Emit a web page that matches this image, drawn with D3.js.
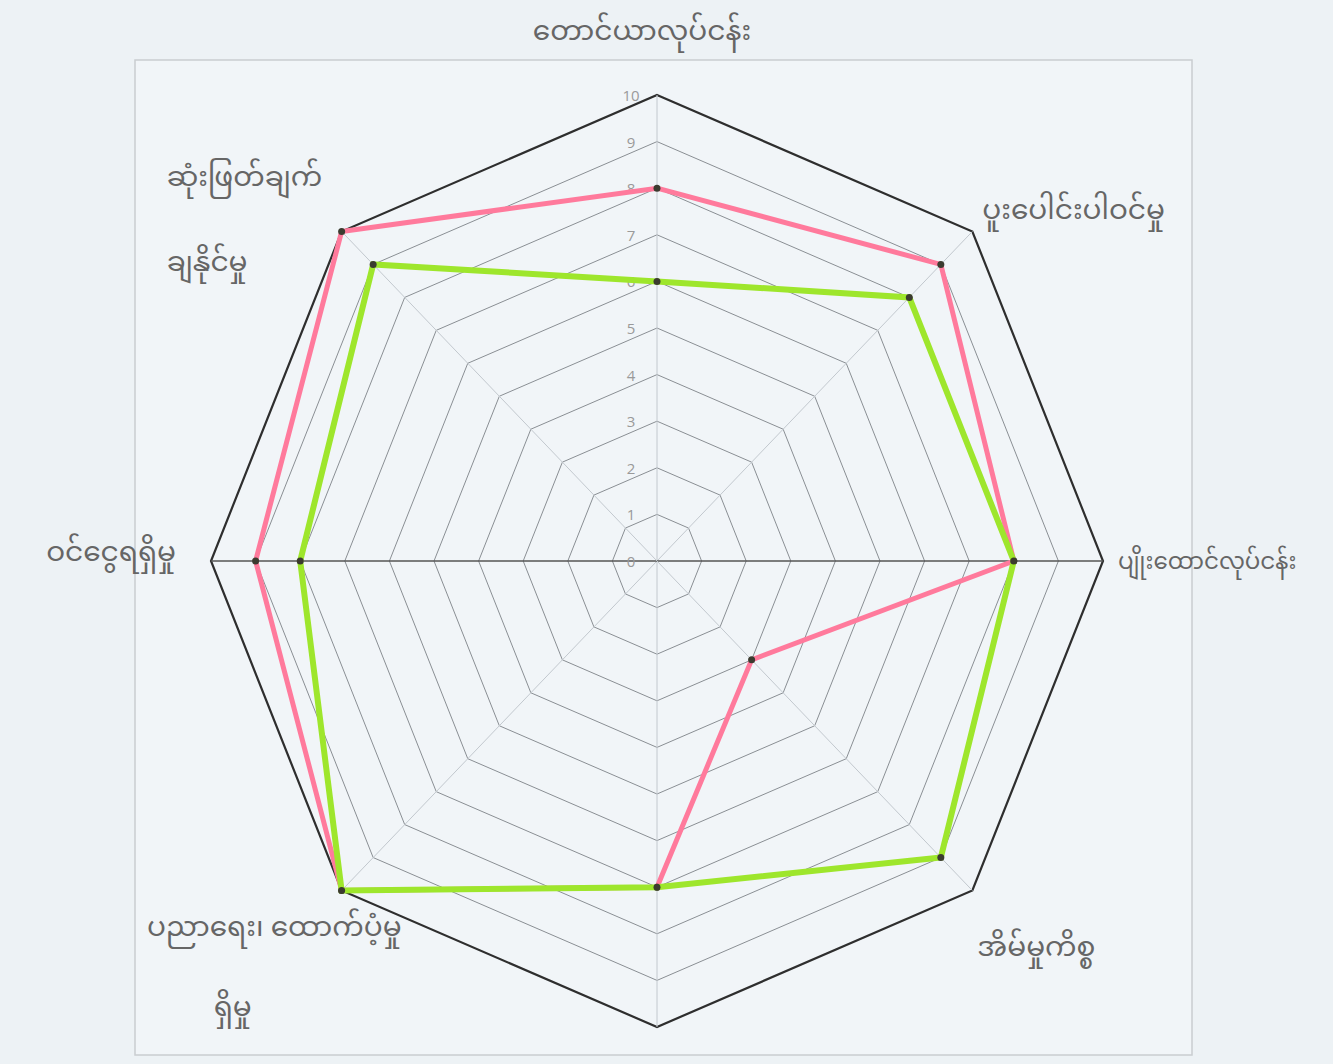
<!DOCTYPE html>
<html>
<head>
<meta charset="utf-8">
<script src="https://cdn.jsdelivr.net/npm/d3@7"></script>
<style>
  html, body { margin: 0; padding: 0; background: #edf2f5; }
  svg { display: block; }
  .lbl { font-family: "Noto Sans Myanmar", "Padauk", "Myanmar Text", "Noto Sans", sans-serif; fill: #666; font-size: 28px; }
  .tick { font-family: "Open Sans", "DejaVu Sans", sans-serif; fill: #9a9a9a; font-size: 15px; }
</style>
</head>
<body>
<script>
// ---- data ----
const categories = [
  ["တောင်ယာလုပ်ငန်း"],
  ["ပူးပေါင်းပါဝင်မှု"],
  ["ပျိုးထောင်လုပ်ငန်း"],
  ["အိမ်မှုကိစ္စ"],
  [""],
  ["ပညာရေး၊ ထောက်ပံ့မှု", "ရှိမှု"],
  ["ဝင်ငွေရရှိမှု"],
  ["ဆုံးဖြတ်ချက်", "ချနိုင်မှု"]
];
const seriesPink  = [8, 9, 8, 3, 7, 10, 9, 10];
const seriesGreen = [6, 8, 8, 9, 7, 10, 8, 9];
const tickValues = [0,1,2,3,4,5,6,7,8,9,10];

// ---- layout ----
const W = 1333, H = 1064;
const cx = 657, cy = 561;
const rX = 446, rY = 466;
const svg = d3.select("body").append("svg").attr("width", W).attr("height", H);

// outer frame
svg.append("rect").attr("x", 135).attr("y", 60).attr("width", 1057).attr("height", 995)
  .attr("fill", "#f1f5f8").attr("stroke", "#c9cdd0").attr("stroke-width", 1.5);

const r = d3.scaleLinear().domain([0, 10]).range([0, 1]);
const angle = d3.scaleLinear().domain([0, categories.length]).range([0, 2 * Math.PI]);
function pt(i, v) {
  const a = angle(i);
  return [cx + Math.sin(a) * r(v) * rX, cy - Math.cos(a) * r(v) * rY];
}

const g = svg.append("g");
// grid octagons
const line = d3.line().curve(d3.curveLinearClosed);
tickValues.slice(1).forEach(t => {
  g.append("path")
    .attr("d", line(categories.map((c, i) => pt(i, t))))
    .attr("fill", "none")
    .attr("stroke", t === 10 ? "#2e2e2e" : "#8a8f94")
    .attr("stroke-width", t === 10 ? 2.2 : 1);
});
// spokes
categories.forEach((c, i) => {
  const p = pt(i, 10);
  const horiz = (i === 2 || i === 6);
  g.append("line").attr("x1", cx).attr("y1", cy).attr("x2", p[0]).attr("y2", p[1])
    .attr("stroke", horiz ? "#555" : "#c2c8ce").attr("stroke-width", horiz ? 1.4 : 1);
});
// tick labels
tickValues.forEach(t => {
  const p = pt(0, t);
  g.append("text").attr("class", "tick").attr("x", p[0] - 26).attr("y", p[1] + 6)
    .attr("text-anchor", "middle").text(t);
});

// series
function drawSeries(vals, color, w) {
  const pts = vals.map((v, i) => pt(i, v));
  g.append("path").attr("d", line(pts)).attr("fill", "none")
    .attr("stroke", color).attr("stroke-width", w).attr("stroke-linejoin", "miter");
  g.selectAll(null).data(pts).enter().append("circle")
    .attr("cx", d => d[0]).attr("cy", d => d[1]).attr("r", 3.5).attr("fill", "#3b3b2f");
}
drawSeries(seriesPink, "#ff7a9c", 5);
drawSeries(seriesGreen, "#9ee62c", 6);

// category labels: [x offset, y offset, anchor, font size, second-line x offset, line gap]
const labelPos = [
  {dx: -15, dy: -55, anchor: "middle", fs: 28},
  {dx: 10, dy: -12, anchor: "start", fs: 28},
  {dx: 15, dy: 8, anchor: "start", fs: 23},
  {dx: 5, dy: 65, anchor: "start", fs: 28},
  {dx: 0, dy: 40, anchor: "middle", fs: 28},
  {dx: 60, dy: 45, anchor: "end", fs: 28, dx2: -90, gap: 80},
  {dx: -35, dy: 0, anchor: "end", fs: 28},
  {dx: -175, dy: -45, anchor: "start", fs: 28, dx2: -175, gap: 85}
];
categories.forEach((lines, i) => {
  const p = pt(i, 10);
  const lp = labelPos[i];
  const t = svg.append("text").attr("class", "lbl").style("font-size", lp.fs + "px")
    .attr("x", p[0] + lp.dx).attr("y", p[1] + lp.dy).attr("text-anchor", lp.anchor);
  lines.forEach((s, k) => {
    t.append("tspan")
      .attr("x", k === 0 ? p[0] + lp.dx : p[0] + lp.dx2)
      .attr("dy", k === 0 ? 0 : lp.gap).text(s);
  });
});
</script>
</body>
</html>
